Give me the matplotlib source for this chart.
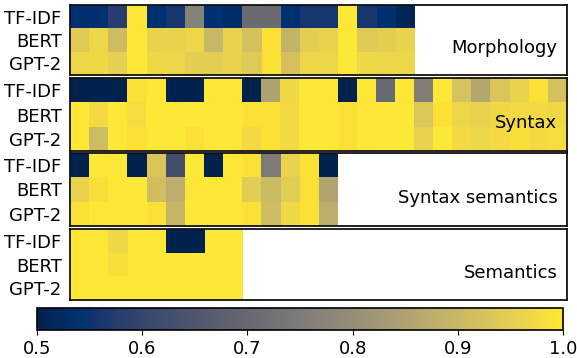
import numpy as np
import matplotlib
matplotlib.use("Agg")
import matplotlib.pyplot as plt

rows = ["TF-IDF", "BERT", "GPT-2"]
panel_names = ["Morphology", "Syntax", "Syntax semantics", "Semantics"]

morph_tfidf = [0.54, 0.54, 0.58, 1.0, 0.54, 0.56, 0.77, 0.54, 0.53, 0.71, 0.71, 0.54, 0.56, 0.56, 1.0, 0.56, 0.54, 0.51]
morph_bert = [0.94, 0.965, 0.91, 1.0, 0.96, 0.96, 0.965, 0.90, 0.96, 0.92, 0.99, 0.89, 0.95, 0.96, 1.0, 0.94, 0.95, 0.96]
morph_gpt2 = [0.965, 0.97, 0.955, 1.0, 0.97, 0.965, 0.95, 0.95, 0.96, 0.94, 0.99, 0.92, 0.965, 0.965, 1.0, 0.97, 0.965, 0.965]

syn_tfidf = [0.50, 0.50, 0.50, 0.99, 1.0, 0.50, 0.50, 1.0, 1.0, 0.50, 0.85, 0.97, 1.0, 1.0, 0.50, 1.0, 0.70, 1.0, 0.76, 1.0, 0.925, 0.86, 0.93, 0.96, 0.99, 0.92]
syn_bert = [1.0, 0.975, 1.0, 0.98, 1.0, 1.0, 1.0, 1.0, 1.0, 0.99, 0.99, 0.975, 1.0, 1.0, 0.99, 1.0, 1.0, 1.0, 0.935, 0.99, 0.965, 0.96, 0.97, 0.975, 0.975, 0.97]
syn_gpt2 = [1.0, 0.91, 1.0, 0.99, 1.0, 1.0, 0.99, 1.0, 1.0, 0.975, 0.99, 0.975, 1.0, 1.0, 0.99, 1.0, 1.0, 1.0, 0.96, 1.0, 0.975, 0.965, 0.975, 0.985, 0.975, 0.98]

synsem_tfidf = [0.50, 1.0, 1.0, 0.50, 0.93, 0.625, 1.0, 0.50, 1.0, 0.99, 0.75, 0.96, 0.99, 0.50]
synsem_bert = [0.96, 0.985, 1.0, 1.0, 0.915, 0.88, 1.0, 1.0, 1.0, 0.945, 0.905, 0.945, 0.99, 0.855]
synsem_gpt2 = [0.99, 1.0, 1.0, 1.0, 0.99, 0.895, 1.0, 1.0, 1.0, 0.99, 0.91, 0.97, 0.99, 0.875]

sem_tfidf = [1.0, 1.0, 0.97, 1.0, 1.0, 0.50, 0.50, 1.0, 1.0]
sem_bert = [1.0, 1.0, 0.985, 1.0, 1.0, 1.0, 1.0, 1.0, 1.0]
sem_gpt2 = [1.0, 1.0, 1.0, 1.0, 1.0, 1.0, 1.0, 1.0, 1.0]

panels = [
    [morph_tfidf, morph_bert, morph_gpt2],
    [syn_tfidf, syn_bert, syn_gpt2],
    [synsem_tfidf, synsem_bert, synsem_gpt2],
    [sem_tfidf, sem_bert, sem_gpt2],
]

cbar_ticks = [0.5, 0.6, 0.7, 0.8, 0.9, 1.0]

W, H = 577, 358
fig = plt.figure(figsize=(W / 100, H / 100), dpi=100)

ncols_max = max(len(p[0]) for p in panels)
bounds = [(5, 75), (78, 151), (153, 226), (229, 300)]
left, right = 70, 567
fs = 13

im = None
for (top, bot), data, name in zip(bounds, panels, panel_names):
    ax = fig.add_axes([left / W, 1 - bot / H, (right - left) / W, (bot - top) / H])
    arr = np.array(data)
    n = arr.shape[1]
    im = ax.imshow(arr, cmap="cividis", vmin=0.5, vmax=1.0, aspect="auto",
                   extent=(-0.5, n - 0.5, 2.5, -0.5), interpolation="nearest")
    ax.set_xlim(-0.5, ncols_max - 0.5)
    ax.set_ylim(2.5, -0.5)
    ax.set_xticks([])
    ax.set_yticks(range(3))
    ax.set_yticklabels(rows, fontsize=fs)
    ax.tick_params(axis="y", length=0, pad=6)
    for s in ax.spines.values():
        s.set_linewidth(1.3)
        s.set_color("#111111")
    ax.text(ncols_max - 1.0, 1.35, name, ha="right", va="center", fontsize=fs)

cax = fig.add_axes([37 / W, 1 - 330 / H, 526 / W, 22 / H])
cb = fig.colorbar(im, cax=cax, orientation="horizontal", ticks=cbar_ticks)
cb.ax.tick_params(labelsize=fs)
cb.outline.set_linewidth(1.2)

fig.savefig("out.png", dpi=100)
